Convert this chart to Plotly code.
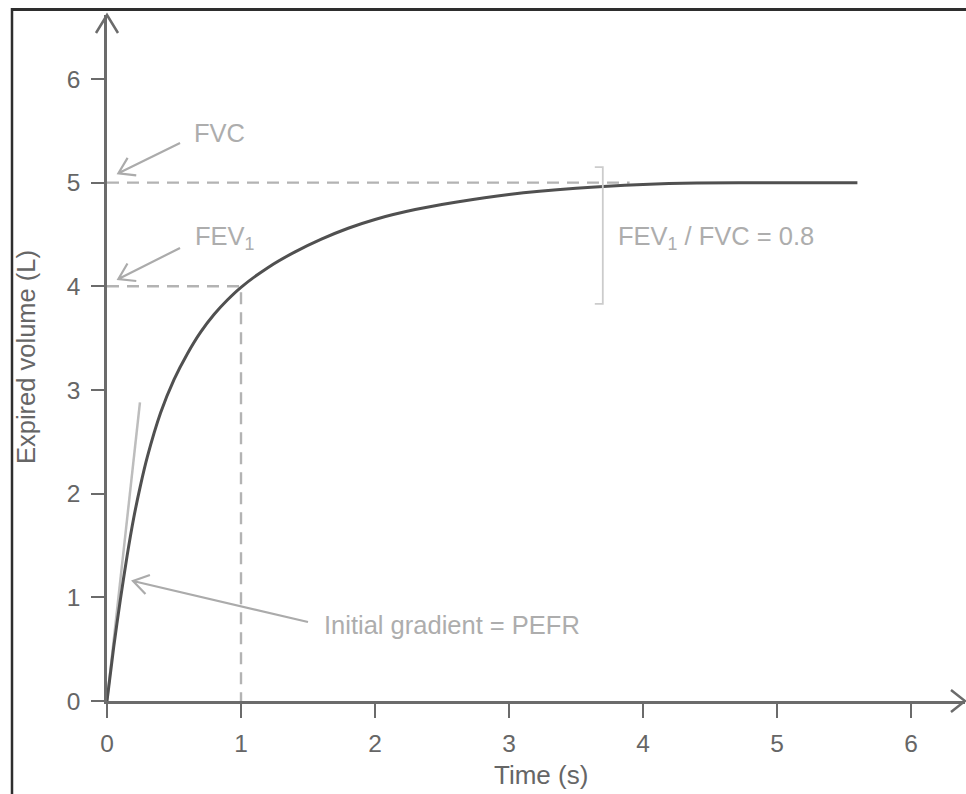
import math
import plotly.graph_objects as go

# ---------------- data ----------------
time_s = [0, 0.05, 0.1, 0.15, 0.2, 0.25, 0.3, 0.4, 0.5, 0.6, 0.7, 0.8, 0.9, 1.0,
          1.2, 1.4, 1.6, 1.8, 2.0, 2.3, 2.6, 3.0, 3.5, 4.0, 4.4, 5.0, 5.6]
volume_l = [0, 0.52, 0.98, 1.40, 1.77, 2.08, 2.35, 2.78, 3.10, 3.35, 3.56, 3.73, 3.87, 3.99,
            4.18, 4.33, 4.455, 4.56, 4.645, 4.74, 4.81, 4.885, 4.945, 4.982, 4.997, 5.0, 5.0]

tangent_t = [0, 0.246]
tangent_v = [0, 2.88]

FVC = 5.0
FEV1 = 4.0
T1 = 1.0
FVC_LINE_END = 3.9

x_ticks = [0, 1, 2, 3, 4, 5, 6]
y_ticks = [0, 1, 2, 3, 4, 5, 6]
x_title = "Time (s)"
y_title = "Expired volume (L)"

# ---------------- layout geometry ----------------
W, H = 966, 794
ML, MR, MT, MB = 107, 1, 15, 93
X_MAX = 6.403
Y_MAX = 6.617
PW = W - ML - MR
PH = H - MT - MB
PX_X = PW / X_MAX
PX_Y = PH / Y_MAX

AXIS_COL = "#6b6b6b"
CURVE_COL = "#505050"
LIGHT_TXT = "#adadad"
DASH_COL = "#b3b3b3"
FONT = "Liberation Sans, Arial, sans-serif"


def px_paper_x(px):
    return (px - ML) / PW


def px_paper_y(py):
    return (H - MB - py) / PH


def arrow_path(tail, tip, length=18, half_angle_deg=33):
    """Straight arrow with an open chevron head, returned as an SVG path in data units."""
    dx = (tail[0] - tip[0]) * PX_X
    dy = (tail[1] - tip[1]) * PX_Y
    n = math.hypot(dx, dy)
    ux, uy = dx / n, dy / n
    pts = []
    for s in (1, -1):
        a = math.radians(half_angle_deg) * s
        rx = ux * math.cos(a) - uy * math.sin(a)
        ry = ux * math.sin(a) + uy * math.cos(a)
        pts.append((tip[0] + rx * length / PX_X, tip[1] + ry * length / PX_Y))
    return (f"M {tail[0]},{tail[1]} L {tip[0]},{tip[1]} "
            f"M {pts[0][0]},{pts[0][1]} L {tip[0]},{tip[1]} L {pts[1][0]},{pts[1][1]}")


fig = go.Figure()

# dashed guide lines
fig.add_trace(go.Scatter(x=[0, FVC_LINE_END], y=[FVC, FVC], mode="lines",
                         line=dict(color=DASH_COL, width=2.4, dash="12px,8px"),
                         hoverinfo="skip", showlegend=False))
fig.add_trace(go.Scatter(x=[0, T1, T1], y=[FEV1, FEV1, 0], mode="lines",
                         line=dict(color=DASH_COL, width=2.4, dash="12px,8px"),
                         hoverinfo="skip", showlegend=False))

# tangent (initial gradient)
fig.add_trace(go.Scatter(x=tangent_t, y=tangent_v, mode="lines",
                         line=dict(color="#bdbdbd", width=2.5),
                         hoverinfo="skip", showlegend=False))

# main curve
fig.add_trace(go.Scatter(x=time_s, y=volume_l, mode="lines",
                         line=dict(color=CURVE_COL, width=3, shape="spline", smoothing=0.8),
                         showlegend=False))

# bracket for ratio
br_x = 3.70
br_tick = 8 / PX_X
fig.add_trace(go.Scatter(x=[br_x - br_tick, br_x, br_x, br_x - br_tick],
                         y=[5.15, 5.15, 3.83, 3.83], mode="lines",
                         line=dict(color="#cccccc", width=1.8),
                         hoverinfo="skip", showlegend=False))

shapes = []
# pointer arrows
for tail, tip in [((0.545, 5.383), (0.085, 5.09)),
                  ((0.545, 4.37), (0.085, 4.07)),
                  ((1.50, 0.762), (0.194, 1.157))]:
    shapes.append(dict(type="path", xref="x", yref="y", path=arrow_path(tail, tip),
                       line=dict(color="#ababab", width=2.2)))

# axis arrowheads (open chevrons) in pixel units
shapes.append(dict(type="path", xref="x domain", yref="y domain",
                   xsizemode="pixel", ysizemode="pixel", xanchor=0, yanchor=1,
                   path="M -11,-18 L 0,0 L 11,-18",
                   line=dict(color=AXIS_COL, width=2.5)))
shapes.append(dict(type="path", xref="x domain", yref="y domain",
                   xsizemode="pixel", ysizemode="pixel", xanchor=1, yanchor=0,
                   path="M -14,11 L 0,0 L -14,-11",
                   line=dict(color=AXIS_COL, width=2.5)))

# image frame lines (top and left)
shapes.append(dict(type="line", xref="paper", yref="paper",
                   x0=px_paper_x(11), x1=px_paper_x(966), y0=px_paper_y(9.5), y1=px_paper_y(9.5),
                   line=dict(color="#2e2e2e", width=3)))
shapes.append(dict(type="line", xref="paper", yref="paper",
                   x0=px_paper_x(12), x1=px_paper_x(12), y0=px_paper_y(8), y1=px_paper_y(794),
                   line=dict(color="#2e2e2e", width=2.5)))

ANN_SIZE = 25.5
annotations = [
    dict(x=0.634, y=5.48, xref="x", yref="y", text="FVC", showarrow=False,
         xanchor="left", yanchor="middle", font=dict(size=ANN_SIZE, color=LIGHT_TXT, family=FONT)),
    dict(x=0.640, y=4.47, xref="x", yref="y", text="FEV<sub>1</sub>", showarrow=False,
         xanchor="left", yanchor="middle", font=dict(size=ANN_SIZE, color=LIGHT_TXT, family=FONT)),
    dict(x=3.80, y=4.47, xref="x", yref="y", text="FEV<sub>1</sub> / FVC = 0.8", showarrow=False,
         xanchor="left", yanchor="middle", font=dict(size=ANN_SIZE, color=LIGHT_TXT, family=FONT)),
    dict(x=1.604, y=0.733, xref="x", yref="y", text="Initial gradient = PEFR", showarrow=False,
         xanchor="left", yanchor="middle", font=dict(size=ANN_SIZE, color=LIGHT_TXT, family=FONT)),
    dict(x=px_paper_x(541), y=px_paper_y(775), xref="paper", yref="paper", text=x_title,
         showarrow=False, xanchor="center", yanchor="middle",
         font=dict(size=26, color="#666666", family=FONT)),
    dict(x=px_paper_x(26), y=px_paper_y(357), xref="paper", yref="paper", text=y_title,
         showarrow=False, xanchor="center", yanchor="middle", textangle=-90,
         font=dict(size=25.5, color="#666666", family=FONT)),
]

fig.update_layout(
    width=W, height=H,
    margin=dict(l=ML, r=MR, t=MT, b=MB, autoexpand=False),
    paper_bgcolor="white", plot_bgcolor="white",
    showlegend=False,
    shapes=shapes,
    annotations=annotations,
    xaxis=dict(range=[0, X_MAX], tickvals=x_ticks, ticks="outside", ticklen=14, tickwidth=2.2,
               tickcolor=AXIS_COL, showline=True, linecolor=AXIS_COL, linewidth=2.5,
               showgrid=False, zeroline=False, ticklabelstandoff=5,
               tickfont=dict(size=24.5, color="#666666", family=FONT), fixedrange=True),
    yaxis=dict(range=[0, Y_MAX], tickvals=y_ticks, ticks="outside", ticklen=13, tickwidth=2.2,
               tickcolor=AXIS_COL, showline=True, linecolor=AXIS_COL, linewidth=2.5,
               showgrid=False, zeroline=False, ticklabelstandoff=6,
               tickfont=dict(size=24.5, color="#666666", family=FONT), fixedrange=True),
)

fig.write_html("out.html", config=dict(displayModeBar=False))
